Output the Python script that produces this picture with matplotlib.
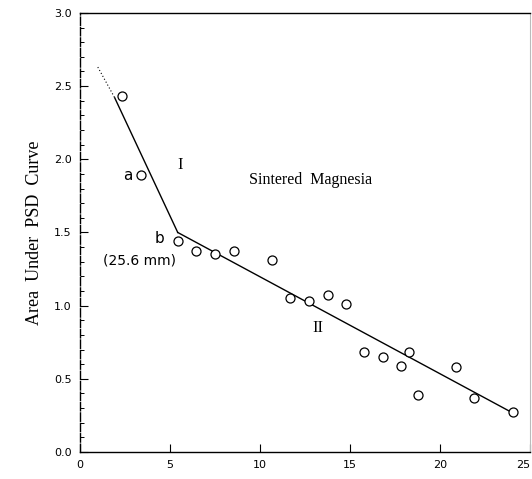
import matplotlib
matplotlib.use("Agg")
import matplotlib.pyplot as plt
from matplotlib.ticker import MultipleLocator

# data
x_points = [2.33, 3.39, 5.44, 6.44, 7.5, 8.56, 10.67, 11.67, 12.72, 13.78, 14.78,
            15.78, 16.83, 17.83, 18.3, 18.8, 20.9, 21.9, 24.06]
y_points = [2.43, 1.89, 1.44, 1.37, 1.35, 1.37, 1.31, 1.05, 1.03, 1.07, 1.01,
            0.68, 0.65, 0.59, 0.68, 0.39, 0.58, 0.37, 0.27]

line1_dotted_x = [1.0, 1.94]
line1_dotted_y = [2.63, 2.42]
line1_x = [1.94, 5.44]
line1_y = [2.42, 1.50]
line2_x = [5.44, 24.0]
line2_y = [1.50, 0.27]

x_ticks = [0, 5, 10, 15, 20, 25]
y_ticks = [0.0, 0.5, 1.0, 1.5, 2.0, 2.5, 3.0]

fig = plt.figure(figsize=(5.32, 4.79), dpi=100)
ax = fig.add_axes([0.150, 0.0564, 0.846, 0.9166])

ax.plot(line1_dotted_x, line1_dotted_y, color="black", lw=0.8, ls=(0, (1, 2)))
ax.plot(line1_x, line1_y, color="black", lw=1.0)
ax.plot(line2_x, line2_y, color="black", lw=1.0)
ax.plot(x_points, y_points, ls="none", marker="o", ms=6.5, mfc="white",
        mec="black", mew=0.9)

ax.set_xlim(0, 25)
ax.set_ylim(0, 3.0)
ax.set_xticks(x_ticks)
ax.set_yticks(y_ticks)
ax.set_xticklabels([str(v) for v in x_ticks])
ax.set_yticklabels([f"{v:.1f}" for v in y_ticks])
ax.yaxis.set_minor_locator(MultipleLocator(0.1))
ax.tick_params(direction="in", length=6, width=0.8, labelsize=8, pad=6)
ax.tick_params(which="minor", direction="in", length=3, width=0.7)
# last x tick label sits at the figure edge as in the reference
ax.get_xticklabels()[-1].set_ha("right")

for s in ["left", "bottom", "top"]:
    ax.spines[s].set_linewidth(1.0)
ax.spines["right"].set_color("#bbbbbb")
ax.spines["right"].set_linewidth(0.8)
ax.spines["left"].set_linestyle((0, (6, 1.5)))

ax.set_ylabel("Area  Under  PSD  Curve", family="Liberation Serif", fontsize=13,
              labelpad=8)

ax.text(9.4, 1.86, "Sintered  Magnesia", family="Liberation Serif", fontsize=11.5,
        va="center", ha="left")
ax.text(5.56, 1.96, "I", family="Liberation Serif", fontsize=12, ha="center", va="center")
ax.text(13.2, 0.85, "II", family="Liberation Serif", fontsize=12, ha="center", va="center")
ax.text(2.67, 1.89, "a", fontsize=11, ha="center", va="center")
ax.text(4.44, 1.46, "b", fontsize=11, ha="center", va="center")
ax.text(3.3, 1.31, "(25.6 mm)", fontsize=10, ha="center", va="center")

fig.savefig("out.png", dpi=100)
